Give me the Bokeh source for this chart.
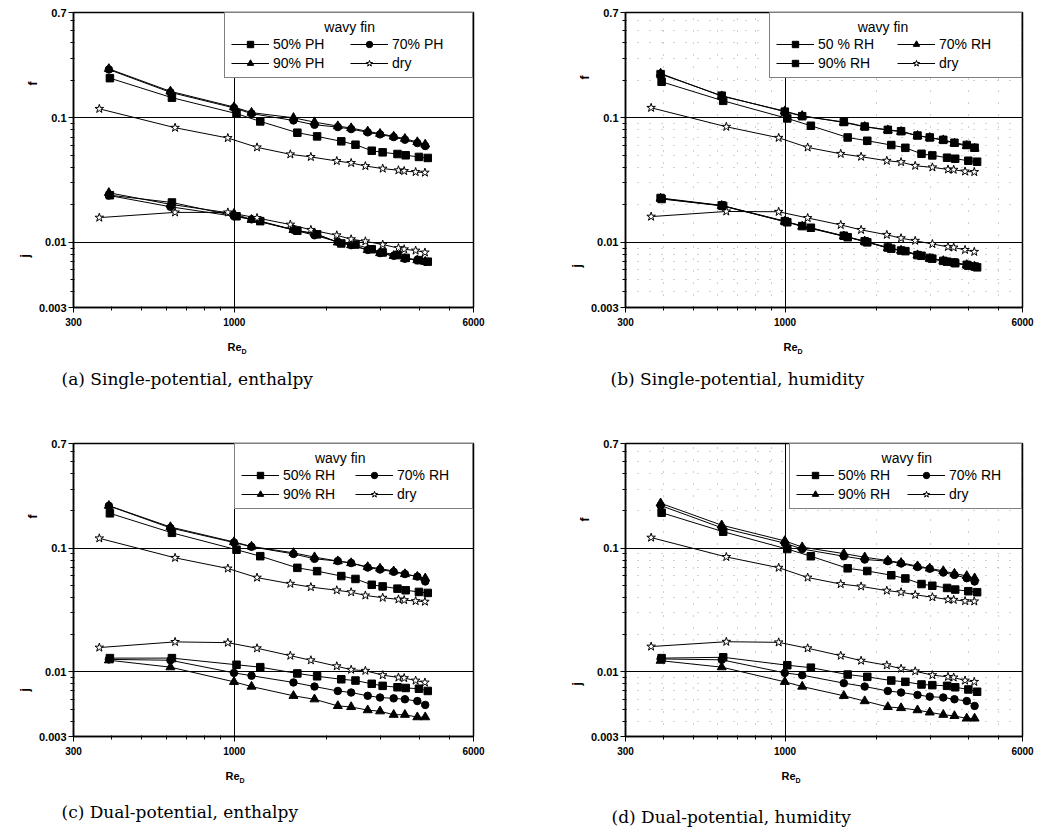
from bokeh.plotting import figure
from bokeh.layouts import gridplot
from bokeh.models import (Range1d, FixedTicker, CustomJSTickFormatter, Legend, LegendItem, Title)
from bokeh.embed import file_html
from bokeh.resources import INLINE

# ---------------- data (Re_D, f, j) ----------------
X50 = [394, 627, 1017, 1215, 1604, 1860, 2229, 2479, 2800, 3038, 3396, 3611, 3987, 4260]
X70 = [391, 620, 998, 1138, 1558, 1824, 2172, 2400, 2717, 2980, 3300, 3590, 3940, 4180]
XDRY = [364, 642, 953, 1186, 1522, 1775, 2155, 2400, 2670, 3040, 3420, 3570, 3890, 4170]

A_F50 = [0.208, 0.145, 0.108, 0.0935, 0.0759, 0.0709, 0.0647, 0.0608, 0.0544, 0.0528, 0.0512, 0.0500, 0.0485, 0.0476]
A_F70 = [0.244, 0.160, 0.120, 0.108, 0.0952, 0.0879, 0.0842, 0.0812, 0.0764, 0.0736, 0.0700, 0.0667, 0.0627, 0.0593]
A_F90 = [0.247, 0.163, 0.122, 0.110, 0.100, 0.0923, 0.0858, 0.0827, 0.0778, 0.0745, 0.0709, 0.0679, 0.0639, 0.0612]
A_FDRY = [0.118, 0.0832, 0.0688, 0.0579, 0.0509, 0.0485, 0.0450, 0.0434, 0.0410, 0.0391, 0.0379, 0.0374, 0.0367, 0.0363]
A_J50 = [0.0239, 0.0209, 0.0162, 0.0148, 0.0124, 0.0116, 0.0098, 0.0096, 0.0088, 0.0083, 0.0079, 0.0075, 0.0072, 0.0070]
A_J70 = [0.0238, 0.0193, 0.0162, 0.0153, 0.0126, 0.0114, 0.0101, 0.0095, 0.0087, 0.0082, 0.0078, 0.0074, 0.0072, 0.0070]
A_J90 = [0.0250, 0.0202, 0.0170, 0.0152, 0.0126, 0.0118, 0.0100, 0.0095, 0.0087, 0.0082, 0.0078, 0.0074, 0.0072, 0.0070]
A_JDRY = [0.0158, 0.0174, 0.0174, 0.0157, 0.0139, 0.0126, 0.0114, 0.0106, 0.0102, 0.0096, 0.0090, 0.0088, 0.0086, 0.0083]

B_F50 = [0.1945, 0.1368, 0.0988, 0.0863, 0.0695, 0.0654, 0.0604, 0.0574, 0.0514, 0.0499, 0.0478, 0.0469, 0.0452, 0.0444]
B_F70 = [0.2268, 0.1492, 0.1131, 0.1037, 0.0917, 0.0847, 0.0796, 0.0773, 0.0717, 0.0691, 0.0662, 0.0623, 0.0596, 0.0567]
B_F90 = [0.2240, 0.1505, 0.1120, 0.1030, 0.0925, 0.0850, 0.0800, 0.0780, 0.0720, 0.0695, 0.0665, 0.0630, 0.0605, 0.0575]
B_FDRY = [0.1203, 0.0847, 0.0691, 0.0578, 0.0514, 0.0487, 0.0452, 0.0441, 0.0412, 0.0400, 0.0385, 0.0383, 0.0371, 0.0367]
B_J50 = [0.0223, 0.0196, 0.0145, 0.0131, 0.0110, 0.0100, 0.0089, 0.0085, 0.0078, 0.0074, 0.0070, 0.0068, 0.0065, 0.0063]
B_J70 = [0.0225, 0.0197, 0.0147, 0.0134, 0.0112, 0.0102, 0.0090, 0.0086, 0.0079, 0.0074, 0.0071, 0.0068, 0.0066, 0.0064]
B_J90 = [0.0227, 0.0198, 0.0148, 0.0135, 0.0113, 0.0102, 0.0091, 0.0086, 0.0079, 0.0075, 0.0071, 0.0069, 0.0066, 0.0064]
B_JDRY = [0.0161, 0.0177, 0.0176, 0.0157, 0.0138, 0.0126, 0.0115, 0.0108, 0.0103, 0.0097, 0.0092, 0.0091, 0.0087, 0.0084]

C_F50 = [0.1909, 0.1328, 0.0970, 0.0860, 0.0692, 0.0651, 0.0594, 0.0563, 0.0505, 0.0490, 0.0470, 0.0456, 0.0442, 0.0434]
C_F70 = [0.2193, 0.1455, 0.1108, 0.1024, 0.0897, 0.0819, 0.0785, 0.0757, 0.0696, 0.0671, 0.0643, 0.0617, 0.0588, 0.0537]
C_F90 = [0.2200, 0.1480, 0.1120, 0.1030, 0.0915, 0.0845, 0.0785, 0.0757, 0.0704, 0.0684, 0.0650, 0.0617, 0.0588, 0.0570]
C_FDRY = [0.1199, 0.0834, 0.0684, 0.0577, 0.0515, 0.0484, 0.0456, 0.0440, 0.0414, 0.0397, 0.0385, 0.0380, 0.0373, 0.0369]
C_J50 = [0.0129, 0.0129, 0.0114, 0.0109, 0.0097, 0.0092, 0.0087, 0.0085, 0.0080, 0.0077, 0.0075, 0.0074, 0.0073, 0.0070]
C_J70 = [0.0126, 0.0124, 0.0098, 0.0093, 0.0082, 0.0076, 0.0070, 0.0068, 0.0064, 0.0062, 0.0061, 0.0060, 0.0058, 0.0054]
C_J90 = [0.0124, 0.0109, 0.0083, 0.0076, 0.0064, 0.0060, 0.0053, 0.0052, 0.0049, 0.0048, 0.0045, 0.0045, 0.0043, 0.0043]
C_JDRY = [0.0157, 0.01745, 0.0172, 0.0155, 0.0135, 0.0124, 0.0111, 0.0104, 0.0102, 0.0094, 0.0090, 0.0089, 0.0085, 0.0082]

D_F50 = [0.1931, 0.1356, 0.0982, 0.0859, 0.0686, 0.0653, 0.0603, 0.0568, 0.0512, 0.0496, 0.0476, 0.0462, 0.0448, 0.0440]
D_F70 = [0.2208, 0.1459, 0.1096, 0.0982, 0.0859, 0.0808, 0.0784, 0.0751, 0.0703, 0.0681, 0.0634, 0.0607, 0.0571, 0.0537]
D_F90 = [0.2303, 0.1531, 0.1143, 0.1018, 0.0902, 0.0843, 0.0793, 0.0760, 0.0715, 0.0686, 0.0653, 0.0622, 0.0596, 0.0571]
D_FDRY = [0.1215, 0.0848, 0.0694, 0.0578, 0.0512, 0.0490, 0.0453, 0.0440, 0.0419, 0.0401, 0.0384, 0.0382, 0.0373, 0.0371]
D_J50 = [0.0129, 0.0131, 0.0113, 0.0108, 0.0095, 0.0091, 0.0085, 0.0083, 0.0079, 0.0078, 0.0077, 0.0075, 0.0072, 0.0069]
D_J70 = [0.0127, 0.0125, 0.0098, 0.0094, 0.0081, 0.0076, 0.0070, 0.0068, 0.0065, 0.0063, 0.0062, 0.0060, 0.0058, 0.0053]
D_J90 = [0.0123, 0.0109, 0.0083, 0.0076, 0.0064, 0.0058, 0.0052, 0.0051, 0.0049, 0.0047, 0.0045, 0.0044, 0.0042, 0.0042]
D_JDRY = [0.0160, 0.0175, 0.0173, 0.0155, 0.0135, 0.0123, 0.0113, 0.0106, 0.0101, 0.0094, 0.0091, 0.0090, 0.0085, 0.0083]

X_TICKS = [300, 1000, 6000]
X_MINOR = [400, 500, 600, 700, 800, 900, 2000, 3000, 4000, 5000]
Y_TICKS = [0.003, 0.01, 0.1, 0.7]
Y_MINOR = [0.004, 0.005, 0.006, 0.007, 0.008, 0.009,
           0.02, 0.03, 0.04, 0.05, 0.06, 0.07, 0.08, 0.09,
           0.2, 0.3, 0.4, 0.5, 0.6]

LEGEND_TITLE = "wavy fin"
LABELS_A = ["50% PH", "70% PH", "90% PH", "dry"]
LABELS_B = ["50 % RH", "70% RH", "90% RH", "dry"]
LABELS_CD = ["50% RH", "70% RH", "90% RH", "dry"]
CAPTIONS = ["(a) Single-potential, enthalpy", "(b) Single-potential, humidity",
            "(c) Dual-potential, enthalpy", "(d) Dual-potential, humidity"]

SANS = "Liberation Sans"
SERIF = "DejaVu Serif"
NBSP = "\u00a0"
fmt = CustomJSTickFormatter(code="return String(tick);")


def make_panel(width, height, borders, labels, markers, series, label_w, title_pad,
               caption, minor_grid, txt):
    bl, br, bt, bb = borders
    p = figure(width=width, height=height, x_axis_type="log", y_axis_type="log",
               x_range=Range1d(300, 6000), y_range=Range1d(0.003, 0.7),
               output_backend="svg", toolbar_location=None,
               min_border_left=bl, min_border_right=br,
               min_border_top=bt, min_border_bottom=bb,
               background_fill_color="white", border_fill_color="white")
    p.outline_line_color = "black"
    p.outline_line_width = 1.5

    for ax, tk, mn in ((p.xaxis, X_TICKS, X_MINOR), (p.yaxis, Y_TICKS, Y_MINOR)):
        ax.ticker = FixedTicker(ticks=tk, minor_ticks=mn)
        ax.formatter = fmt
        ax.major_label_text_font = SANS
        ax.major_label_text_font_style = "bold"
        ax.major_label_text_color = "black"
        ax.axis_line_color = "black"
        ax.axis_line_width = 1.5
        ax.major_tick_line_color = "black"
        ax.minor_tick_line_color = "black"
        ax.major_tick_in = 0
        ax.major_tick_out = 5
        ax.minor_tick_in = 1
        ax.minor_tick_out = 3
    p.xaxis.major_label_text_font_size = "10px"
    p.yaxis.major_label_text_font_size = "11px"
    p.xaxis.major_label_standoff = 5
    p.yaxis.major_label_standoff = 2

    p.xgrid.ticker = FixedTicker(ticks=[1000], minor_ticks=X_MINOR)
    p.ygrid.ticker = FixedTicker(ticks=[0.01, 0.1], minor_ticks=Y_MINOR)
    for g in (p.xgrid, p.ygrid):
        g.grid_line_color = "black"
        g.grid_line_width = 1
        if minor_grid:
            g.minor_grid_line_color = "#777777"
            g.minor_grid_line_dash = "1 11"
            g.minor_grid_line_alpha = 0.7
        else:
            g.minor_grid_line_color = None

    items = []
    xs = [X50, X70, X70, XDRY]
    for k in range(4):
        xf = xs[k]
        fvals, jvals = series[k]
        mk = markers[k]
        fill = "white" if mk == "star" else "black"
        size = 9 if mk in ("star", "triangle") else 7.5
        lf = p.line(xf, fvals, line_color="black", line_width=1)
        sf = p.scatter(xf, fvals, marker=mk, size=size, fill_color=fill, line_color="black", line_width=1)
        p.line(xf, jvals, line_color="black", line_width=1)
        p.scatter(xf, jvals, marker=mk, size=size, fill_color=fill, line_color="black", line_width=1)
        items.append(LegendItem(label=labels[k], renderers=[lf, sf]))

    leg = Legend(items=items, location="top_right", orientation="horizontal", ncols=2,
                 title=NBSP * title_pad + LEGEND_TITLE, title_text_font=SANS,
                 title_text_font_size="14px", title_text_font_style="normal",
                 title_text_color="black", title_standoff=1,
                 padding=6, spacing=3, margin=0,
                 glyph_width=38, glyph_height=16, label_height=16, label_width=label_w,
                 label_standoff=4, label_text_font=SANS, label_text_font_size="14px",
                 label_text_color="black",
                 border_line_color="black", border_line_width=1.5,
                 background_fill_color="white", background_fill_alpha=1.0)
    p.add_layout(leg)

    # y-side labels f and j (vertical)
    p.add_layout(Title(text="f", align="right", offset=txt["f_off"], standoff=-8,
                       text_font=SANS, text_font_size="12px", text_font_style="bold",
                       text_color="black"), "left")
    p.add_layout(Title(text="j", align="left", offset=txt["j_off"], standoff=-8,
                       text_font=SANS, text_font_size="12px", text_font_style="bold",
                       text_color="black"), "left")
    # x-side: gap, Re with subscript D, gap, caption
    p.add_layout(Title(text=NBSP, align="left", standoff=-4, text_font=SANS,
                       text_font_size="11px", text_color="white"), "below")
    p.add_layout(Title(text="Re", align="left", offset=txt["re_off"], standoff=0,
                       text_font=SANS, text_font_size="11px", text_font_style="bold",
                       text_color="black"), "below")
    p.add_layout(Title(text="D", align="left", offset=txt["re_off"] + 14, standoff=-10,
                       vertical_align="top",
                       text_font=SANS, text_font_size="7px", text_font_style="bold",
                       text_color="black"), "below")
    p.add_layout(Title(text=NBSP, align="left", standoff=txt["gap"], text_font=SANS,
                       text_font_size="11px", text_color="white"), "below")
    p.add_layout(Title(text=caption, align="left", offset=txt["cap_off"], standoff=-10,
                       vertical_align="top",
                       text_font=SERIF, text_font_size="17px", text_font_style="normal",
                       text_color="black"), "below")
    return p


pa = make_panel(518, 428, (70, 45, 12, 121), LABELS_A, ["square", "circle", "triangle", "star"],
                [(A_F50, A_J50), (A_F70, A_J70), (A_F90, A_J90), (A_FDRY, A_JDRY)],
                74, 24, CAPTIONS[0], False,
                dict(f_off=69, j_off=50, re_off=154, cap_off=-12, gap=6.5))
pb = make_panel(518, 428, (107, 12, 10, 121), LABELS_B, ["square", "triangle", "square", "star"],
                [(B_F50, B_J50), (B_F70, B_J70), (B_F90, B_J90), (B_FDRY, B_JDRY)],
                76, 21, CAPTIONS[1], True,
                dict(f_off=63, j_off=40, re_off=158, cap_off=-15, gap=6.5))
pc = make_panel(518, 406, (73, 45, 15, 93), LABELS_CD, ["square", "circle", "triangle", "star"],
                [(C_F50, C_J50), (C_F70, C_J70), (C_F90, C_J90), (C_FDRY, C_JDRY)],
                69, 19, CAPTIONS[2], False,
                dict(f_off=71, j_off=45, re_off=152, cap_off=-12, gap=10.5))
pd_ = make_panel(518, 406, (107, 14, 11, 98), LABELS_CD, ["square", "circle", "triangle", "star"],
                 [(D_F50, D_J50), (D_F70, D_J70), (D_F90, D_J90), (D_FDRY, D_JDRY)],
                 66, 22, CAPTIONS[3], True,
                 dict(f_off=74, j_off=51, re_off=156, cap_off=-14, gap=15.5))

grid = gridplot([[pa, pb], [pc, pd_]], toolbar_location=None)
open("out.html", "w").write(file_html(grid, INLINE))
